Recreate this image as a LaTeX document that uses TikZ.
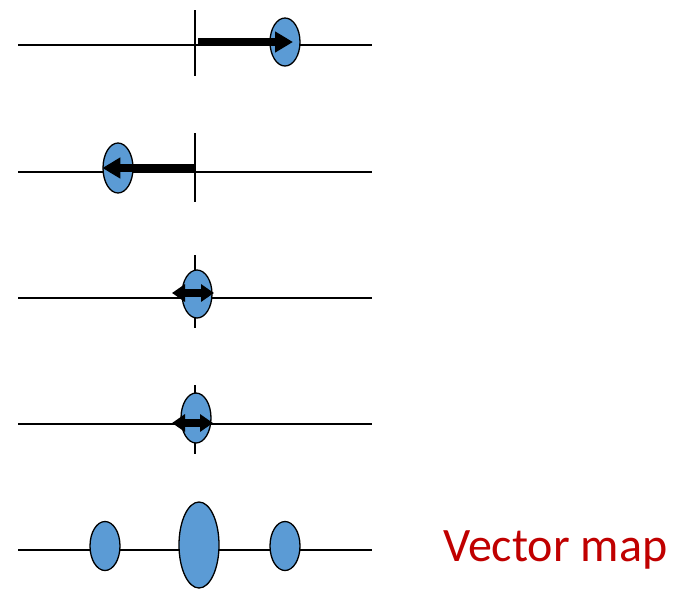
\documentclass[tikz,border=0pt]{standalone}
\usepackage{fontspec}
\newfontfamily\labelfont{Carlito}
\usetikzlibrary{arrows.meta,shapes.geometric}
\definecolor{dotblue}{HTML}{5B9BD5}
\definecolor{mapred}{HTML}{C00000}
\tikzset{
  axis/.style={line width=1.4pt, black},
  blob/.style={ellipse, draw=black, line width=1.3pt, fill=dotblue, inner sep=0pt},
  pusharrow/.style={line width=8pt, -{Triangle[length=18pt,width=20pt]}},
  jitter/.style={line width=8pt, {Triangle[length=13pt,width=17pt]}-{Triangle[length=13pt,width=17pt]}},
}
\begin{document}
\begin{tikzpicture}[x=1pt,y=-1pt]
\useasboundingbox (0,0) rectangle (677,590);

% row 1: displacement to the right
\draw[axis] (18,45) -- (372,45);
\draw[axis] (195,10) -- (195,76);
\node[blob, minimum width=30pt, minimum height=48pt] (a1) at (285,42) {};
\coordinate (o1) at (198,42);
\coordinate (t1) at (293,42);
\draw[pusharrow] (o1) -- (t1);

% row 2: displacement to the left
\draw[axis] (18,172) -- (372,172);
\draw[axis] (195,133) -- (195,202);
\node[blob, minimum width=30pt, minimum height=50pt] (a2) at (118,168) {};
\coordinate (o2) at (195,168);
\draw[pusharrow] (o2) -- (a2.west);

% row 3: oscillation around the origin
\draw[axis] (18,298) -- (372,298);
\draw[axis] (195,255) -- (195,328);
\node[blob, minimum width=30pt, minimum height=48pt] (a3) at (197,294) {};
\coordinate (l3) at (172,293);
\coordinate (r3) at (214,293);
\draw[jitter] (l3) -- (r3);

% row 4: oscillation around the origin
\draw[axis] (18,424) -- (372,424);
\draw[axis] (195,385) -- (195,454);
\node[blob, minimum width=30pt, minimum height=50pt] (a4) at (196,418) {};
\coordinate (l4) at (172,423);
\coordinate (r4) at (213,423);
\draw[jitter] (l4) -- (r4);

% row 5: resulting vector map
\draw[axis] (18,550) -- (372,550);
\node[blob, minimum width=30pt, minimum height=49pt] (b1) at (105,546) {};
\node[blob, minimum width=40pt, minimum height=86pt] (b2) at (199,545) {};
\node[blob, minimum width=30pt, minimum height=49pt] (b3) at (285,546) {};

\node[anchor=base west, inner sep=0pt, text=mapred, font=\labelfont\fontsize{48}{54}\selectfont] (lbl) at (443,561) {Vector map};
\end{tikzpicture}
\end{document}
